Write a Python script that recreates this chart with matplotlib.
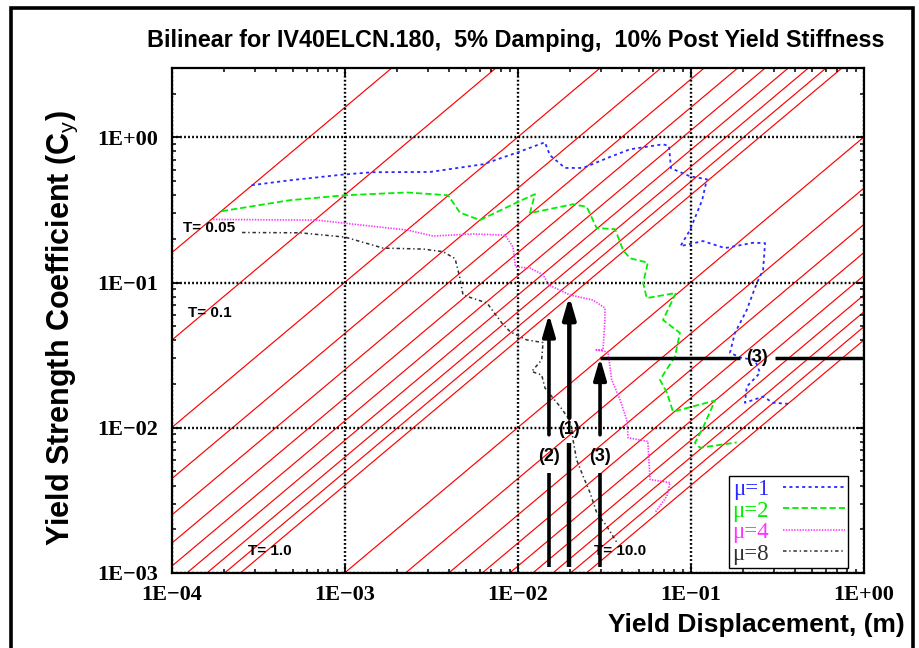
import numpy as np
import matplotlib
matplotlib.use('Agg')
import matplotlib.pyplot as plt
from matplotlib.ticker import LogLocator, FuncFormatter, NullFormatter
from matplotlib.lines import Line2D
from matplotlib.patches import Rectangle

plt.rcParams['lines.scale_dashes'] = False
plt.rcParams['mathtext.fontset'] = 'custom'
plt.rcParams['mathtext.rm'] = 'Liberation Sans'
plt.rcParams['mathtext.it'] = 'Liberation Sans:italic'
plt.rcParams['mathtext.bf'] = 'Liberation Sans:bold'

# ---------------- data ----------------
periods = [0.05, 0.1, 0.2, 0.3, 0.4, 0.5, 0.6, 0.7, 0.8, 0.9, 1.0,
           2.0, 3.0, 4.0, 5.0, 6.0, 7.0, 8.0, 9.0, 10.0]
g = 9.81

mu1_d = [2.89e-4, 4.81e-4, 9.77e-4, 1.45e-3, 3.10e-3, 6.28e-3, 0.0100, 0.0143, 0.0153,
         0.0187, 0.0238, 0.0340, 0.0444, 0.0689, 0.0746, 0.0766, 0.0986, 0.1236, 0.116,
         0.0986, 0.0869, 0.1172, 0.157, 0.228, 0.268, 0.261, 0.240, 0.210, 0.1795, 0.168,
         0.196, 0.2344, 0.2506, 0.210, 0.205, 0.261, 0.298, 0.364]
mu1_cy = [0.468, 0.506, 0.554, 0.575, 0.577, 0.652, 0.789, 0.924, 0.752,
          0.615, 0.615, 0.732, 0.827, 0.895, 0.871, 0.612, 0.539, 0.514, 0.369,
          0.2296, 0.178, 0.193, 0.1726, 0.1877, 0.1868, 0.122, 0.0992, 0.0647, 0.045, 0.0328,
          0.0303, 0.0293, 0.0239, 0.0192, 0.01486, 0.0164, 0.01486, 0.01462]

mu2_d = [1.94e-4, 4.81e-4, 1.0e-3, 2.28e-3, 3.94e-3, 4.62e-3, 6.03e-3, 0.0100, 0.01253,
         0.01172, 0.0208, 0.02495, 0.0285, 0.0364, 0.0405, 0.0444, 0.0563, 0.0529, 0.0555,
         0.0818, 0.0689, 0.0863, 0.0808, 0.0662, 0.0726, 0.0787, 0.1377, 0.1172, 0.1054,
         0.1127, 0.1836]
mu2_cy = [0.310, 0.369, 0.399, 0.417, 0.399, 0.303, 0.269, 0.359, 0.406,
          0.3005, 0.346, 0.332, 0.237, 0.233, 0.167, 0.147, 0.137, 0.0992, 0.0782,
          0.0847, 0.0552, 0.045, 0.0309, 0.0214, 0.0174, 0.0129, 0.0154, 0.0100, 0.00788,
          0.00729, 0.00792]

mu4_d = [1.73e-4, 6.86e-4, 1.27e-3, 2.28e-3, 3.23e-3, 5.50e-3, 8.41e-3, 9.35e-3, 9.67e-3,
         0.01172, 0.01395, 0.0151, 0.0200, 0.0271, 0.0318, 0.0318, 0.0310, 0.0279, 0.0331,
         0.0348, 0.0389, 0.0425, 0.0433, 0.0563, 0.0580, 0.0757, 0.0724, 0.0619]
mu4_cy = [0.272, 0.269, 0.248, 0.230, 0.209, 0.216, 0.212, 0.176, 0.128,
          0.126, 0.113, 0.0961, 0.082, 0.0758, 0.0668, 0.0552, 0.0344, 0.0344, 0.0333,
          0.0214, 0.0156, 0.01135, 0.00854, 0.00805, 0.0044, 0.00419, 0.00337, 0.0026]

mu8_d = [2.54e-4, 5.50e-4, 1.0e-3, 1.66e-3, 2.83e-3, 3.69e-3, 4.33e-3, 4.62e-3, 4.81e-3,
         6.28e-3, 6.62e-3, 8.06e-3, 9.0e-3, 0.0112, 0.01395, 0.0137, 0.0120, 0.0137,
         0.01432, 0.01567, 0.0175, 0.01946, 0.0204, 0.0208, 0.0218, 0.0238, 0.0261,
         0.0285, 0.0326, 0.0373]
mu8_cy = [0.221, 0.220, 0.2055, 0.1726, 0.170, 0.163, 0.146, 0.107, 0.082,
          0.0738, 0.0723, 0.0527, 0.0459, 0.0403, 0.0386, 0.0293, 0.0244, 0.0231,
          0.0188, 0.0164, 0.0140, 0.0117, 0.0100, 0.00827, 0.00603, 0.00463, 0.00357,
          0.0026, 0.0021, 0.00162]

series_labels = ['\u03bc=1', '\u03bc=2', '\u03bc=4', '\u03bc=8']

# period labels
period_label_text = ['T= 0.05', 'T= 0.1', 'T= 1.0', 'T= 10.0']
period_label_d = [1.16e-4, 1.24e-4, 2.75e-4, 0.0275]
period_label_cy = [0.237, 0.0617, 1.41e-3, 1.41e-3]

# arrows: (1), (2), (3)
arrow_names = ['(1)', '(2)', '(3)']
arrow_d = [0.0198, 0.0151, 0.0298]
arrow_tip = [0.0805, 0.0604, 0.0303]
arrow_base = 1.1e-3
arrow_gap_low = [0.00788, 0.00491, 0.00491]
arrow_gap_high = [0.0117, 0.00895, 0.00895]
arrow_label_cy = [0.00969, 0.00632, 0.00632]
horiz_cy = 0.0303
horiz_gap = [0.192, 0.306]
horiz_label_d = 0.241

title = 'Bilinear for IV40ELCN.180,  5% Damping,  10% Post Yield Stiffness'

# ---------------- figure ----------------
fig = plt.figure(figsize=(9.2, 6.48), dpi=100)
ax = fig.add_axes([172/920, 1-573/648, 692/920, 505/648])
ax.set_xscale('log')
ax.set_yscale('log')
ax.set_xlim(1e-4, 1.0)
ax.set_ylim(1e-3, 3.0)

# constant period lines
dd = np.array([1e-6, 10.0])
for T in periods:
    ax.plot(dd, (2*np.pi/T)**2/g*dd, color='red', lw=0.85, zorder=1)

ax.grid(which='major', color='black', linestyle=(0, (1.3, 1.6)), lw=1.7, zorder=2)

ax.plot(mu1_d, mu1_cy, color='#2a2aff', lw=1.3, ls=(0, (2.2, 2.4)), zorder=3)
ax.plot(mu2_d, mu2_cy, color='#00ee00', lw=1.3, ls=(0, (4.5, 2.2)), zorder=3)
ax.plot(mu4_d, mu4_cy, color='#ff33ff', lw=1.2, ls=(0, (1.0, 1.0)), zorder=3)
ax.plot(mu8_d, mu8_cy, color='#303030', lw=1.1, ls=(0, (2.5, 2.0, 1.0, 2.0)), zorder=3)

# arrows
lws = [3.2, 2.6, 2.6]
for i in range(3):
    x = arrow_d[i]
    ax.plot([x, x], [arrow_base, arrow_gap_low[i]], color='black', lw=lws[i],
            solid_capstyle='butt', zorder=5)
    ax.annotate('', xy=(x, arrow_tip[i]), xytext=(x, arrow_gap_high[i]),
                arrowprops=dict(arrowstyle='-|>,head_length=1.3,head_width=0.38',
                                mutation_scale=10, lw=lws[i], color='black',
                                shrinkA=0, shrinkB=0), zorder=5)
    ax.text(x, arrow_label_cy[i], arrow_names[i], ha='center', va='center',
            fontsize=13, fontweight='bold', family='Liberation Sans', zorder=6)

ax.plot([arrow_d[2], horiz_gap[0]], [horiz_cy, horiz_cy], color='black', lw=2.5,
        solid_capstyle='butt', zorder=5)
ax.plot([horiz_gap[1], 1.0], [horiz_cy, horiz_cy], color='black', lw=2.5,
        solid_capstyle='butt', zorder=5)
ax.text(horiz_label_d, horiz_cy, '(3)', ha='center', va='center',
        fontsize=13, fontweight='bold', family='Liberation Sans', zorder=6)

for t, x, y in zip(period_label_text, period_label_d, period_label_cy):
    ax.text(x, y, t, ha='left', va='center', fontsize=11, fontweight='bold',
            family='Liberation Sans', zorder=6)

# ticks
ax.xaxis.set_major_locator(LogLocator(base=10, numticks=10))
ax.yaxis.set_major_locator(LogLocator(base=10, numticks=10))
ax.xaxis.set_minor_locator(LogLocator(base=10, subs=np.arange(2, 10), numticks=20))
ax.yaxis.set_minor_locator(LogLocator(base=10, subs=np.arange(2, 10), numticks=20))
ax.xaxis.set_minor_formatter(NullFormatter())
ax.yaxis.set_minor_formatter(NullFormatter())

def fmt(v, p):
    e = int(round(np.log10(v)))
    return ('1E%+03d' % e).replace('-', '\u2212')

ax.xaxis.set_major_formatter(FuncFormatter(fmt))
ax.yaxis.set_major_formatter(FuncFormatter(fmt))
ax.tick_params(which='both', direction='in', top=True, right=True, color='black')
ax.tick_params(which='major', length=6, width=1.3)
ax.tick_params(which='minor', length=3, width=1.1)
ax.tick_params(axis='x', pad=9)
ax.tick_params(axis='y', pad=10)
for lab in ax.get_xticklabels() + ax.get_yticklabels():
    lab.set_family('Liberation Serif')
    lab.set_fontweight('bold')
    lab.set_fontsize(16)
for s in ax.spines.values():
    s.set_linewidth(1.6)

# legend
handles = [Line2D([], [], color='#2a2aff', lw=1.3, ls=(0, (2.2, 2.4))),
           Line2D([], [], color='#00ee00', lw=1.3, ls=(0, (4.5, 2.2))),
           Line2D([], [], color='#ff33ff', lw=1.2, ls=(0, (1.0, 1.0))),
           Line2D([], [], color='#303030', lw=1.1, ls=(0, (2.5, 2.0, 1.0, 2.0)))]
leg = ax.legend(handles, series_labels, loc='lower right', bbox_to_anchor=(0.977, 0.01),
                borderaxespad=0, markerfirst=False, labelcolor='linecolor',
                prop=dict(family='Liberation Serif', size=16.5), frameon=True,
                fancybox=False, edgecolor='black', framealpha=1, handlelength=2.7,
                handletextpad=0.6, borderpad=0.15, labelspacing=0.02)
leg.get_frame().set_linewidth(1.0)
leg.set_zorder(10)

# texts
fig.text(516/920, 1-40/648, title, ha='center', va='center', fontsize=16.8,
         fontweight='bold', family='Liberation Sans')
fig.text(62/920, 1-328/648, r'Yield Strength Coefficient (C$_{\mathrm{y}}$)',
         rotation=90, ha='center', va='center', fontsize=22, fontweight='bold',
         family='Liberation Sans')
fig.text(905/920, 1-625/648, 'Yield Displacement, (m)', ha='right', va='center',
         fontsize=19, fontweight='bold', family='Liberation Sans')

# outer border
fig.patches.append(Rectangle((11/920, -0.05), (913-11)/920, 1-8/648+0.05,
                             transform=fig.transFigure, fill=False, lw=2.6,
                             edgecolor='black'))

fig.savefig('out.png', dpi=100)
